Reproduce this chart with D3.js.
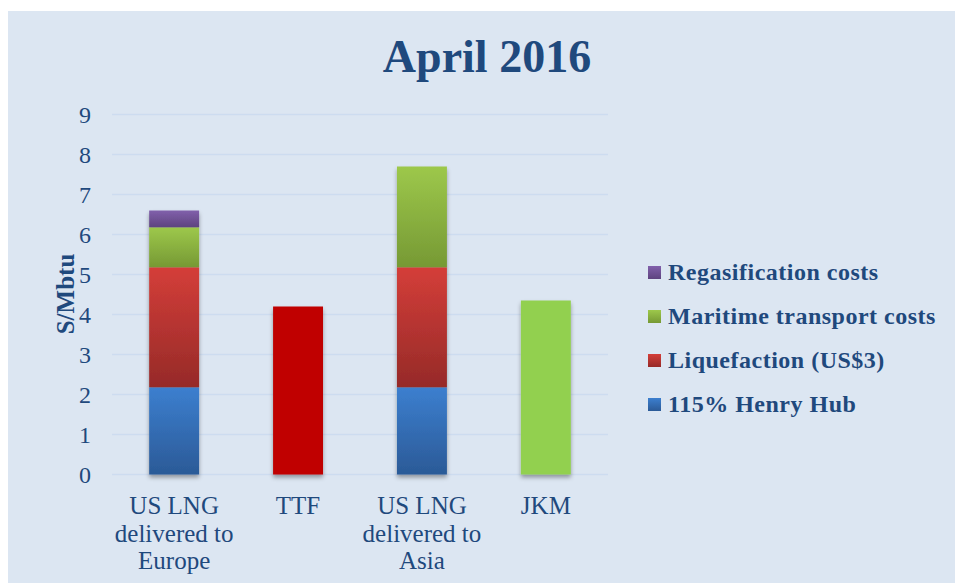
<!DOCTYPE html>
<html>
<head>
<meta charset="utf-8">
<script src="https://cdn.jsdelivr.net/npm/d3@7"></script>
<style>
  body { margin: 0; background: #ffffff; }
  text { font-family: "Liberation Serif", "DejaVu Serif", serif; fill: #1f497d; }
</style>
</head>
<body>
<div id="chart"></div>
<script>
// categories (multi-line x labels)
var categories = [["US LNG", "delivered to", "Europe"], ["TTF"], ["US LNG", "delivered to", "Asia"], ["JKM"]];
// series values, $/Mbtu
var henryHub = [2.18, 0, 2.18, 0];
var liquefaction = [3.0, 0, 3.0, 0];
var maritime = [1.0, 0, 2.52, 0];
var regasification = [0.42, 0, 0, 0];
var ttfPrice = [0, 4.2, 0, 0];
var jkmPrice = [0, 0, 0, 4.35];
var yTicks = [0, 1, 2, 3, 4, 5, 6, 7, 8, 9];

var width = 955, height = 583;
var margin = {top: 114.5, left: 112, right: 347, bottom: 108.5};

var svg = d3.select("#chart").append("svg").attr("width", width).attr("height", height);

// gradients + shadow
var defs = svg.append("defs");
function grad(id, top, bottom) {
    var g = defs.append("linearGradient").attr("id", id).attr("x1", 0).attr("y1", 0).attr("x2", 0).attr("y2", 1);
    g.append("stop").attr("offset", "0%").attr("stop-color", top);
    g.append("stop").attr("offset", "100%").attr("stop-color", bottom);
}
grad("gBlue", "#3c7fcf", "#2b5a97");
grad("gRed", "#d43e39", "#962a28");
grad("gGreen", "#9dc84b", "#769934");
grad("gPurple", "#8160ab", "#5e437f");
var f = defs.append("filter").attr("id", "shadow").attr("x", "-20%").attr("y", "-20%").attr("width", "140%").attr("height", "140%");
f.append("feDropShadow").attr("dx", 0).attr("dy", 3).attr("stdDeviation", 2.2)
    .attr("flood-color", "#000").attr("flood-opacity", 0.35);

// chart background
svg.append("rect").attr("x", 8).attr("y", 11).attr("width", width - 8).attr("height", height - 11).attr("fill", "#dce6f2");

// title
svg.append("text").attr("x", 487).attr("y", 72).attr("text-anchor", "middle")
    .style("font-size", "46px").style("font-weight", "bold").text("April 2016");

var innerW = width - margin.left - margin.right,
    innerH = height - margin.top - margin.bottom;

var x = d3.scaleBand().domain(d3.range(categories.length)).range([0, innerW]).paddingInner(0.597).paddingOuter(0.3);
var y = d3.scaleLinear().domain([0, 9]).range([innerH, 0]);

var g = svg.append("g").attr("transform", "translate(" + margin.left + "," + margin.top + ")");

// gridlines
g.append("g").selectAll("line").data(yTicks).enter().append("line")
    .attr("x1", 0).attr("x2", innerW)
    .attr("y1", function(d) { return y(d); }).attr("y2", function(d) { return y(d); })
    .attr("stroke", "#cddcf0").attr("stroke-width", 1.5);

// y axis (numbers only)
var yAxis = g.append("g").attr("transform", "translate(-21,0)")
    .call(d3.axisLeft(y).tickValues(yTicks).tickSize(0).tickPadding(0));
yAxis.select(".domain").remove();
yAxis.selectAll("text").style("font-size", "24px").style("font-family", "Liberation Serif").attr("fill", "#1f497d");

// y axis label
svg.append("text").attr("transform", "translate(74,294) rotate(-90)").attr("text-anchor", "middle")
    .style("font-size", "25px").style("font-weight", "bold").text("S/Mbtu");

// stacked bars
var keys = ["henryHub", "liquefaction", "maritime", "regasification", "ttfPrice", "jkmPrice"];
var fills = {henryHub: "url(#gBlue)", liquefaction: "url(#gRed)", maritime: "url(#gGreen)",
             regasification: "url(#gPurple)", ttfPrice: "#c00000", jkmPrice: "#92d050"};
var table = categories.map(function(c, i) {
    return {i: i, henryHub: henryHub[i], liquefaction: liquefaction[i], maritime: maritime[i],
            regasification: regasification[i], ttfPrice: ttfPrice[i], jkmPrice: jkmPrice[i]};
});
var stacked = d3.stack().keys(keys)(table);

var bars = g.append("g").attr("filter", "url(#shadow)");
stacked.forEach(function(s) {
    bars.selectAll(null).data(s.filter(function(d) { return d[1] - d[0] > 0; })).enter().append("rect")
        .attr("x", function(d) { return x(d.data.i); })
        .attr("width", x.bandwidth())
        .attr("y", function(d) { return y(d[1]); })
        .attr("height", function(d) { return y(d[0]) - y(d[1]); })
        .attr("fill", fills[s.key]);
});

// x labels
var xl = g.append("g").selectAll("text").data(categories).enter().append("text")
    .attr("text-anchor", "middle")
    .attr("transform", function(d, i) { return "translate(" + (x(i) + x.bandwidth() / 2) + "," + (innerH + 39.5) + ")"; })
    .style("font-size", "25px");
xl.selectAll("tspan").data(function(d) { return d; }).enter().append("tspan")
    .attr("x", 0).attr("dy", function(d, i) { return i ? 27.5 : 0; }).text(function(d) { return d; });

// legend (top to bottom = reverse of stack)
var legendNames = ["Regasification costs", "Maritime transport costs", "Liquefaction (US$3)", "115% Henry Hub"];
var legendFills = ["url(#gPurple)", "url(#gGreen)", "url(#gRed)", "url(#gBlue)"];
var legend = svg.append("g").selectAll("g").data(legendNames).enter().append("g")
    .attr("transform", function(d, i) { return "translate(648," + (266 + 44 * i) + ")"; });
legend.append("rect").attr("width", 13).attr("height", 13).attr("fill", function(d, i) { return legendFills[i]; });
legend.append("text").attr("x", 20).attr("y", 14).style("font-size", "24px").style("font-weight", "bold")
    .style("letter-spacing", "0.5px")
    .text(function(d) { return d; });
</script>
</body>
</html>
